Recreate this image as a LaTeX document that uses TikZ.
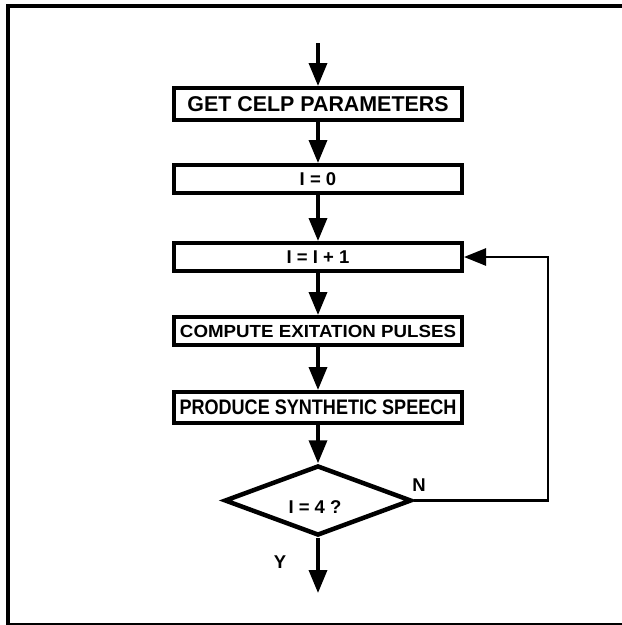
\documentclass[tikz,border=0pt]{standalone}
\usepackage{fontspec}
\setmainfont{Liberation Sans}
\usetikzlibrary{arrows.meta,shapes.geometric}
\begin{document}
\begin{tikzpicture}[x=1pt,y=-1pt,
  box/.style={draw,line width=4pt,minimum width=288pt,minimum height=28pt,inner sep=0pt},
  arr/.style={line width=3.5pt,-{Triangle[width=18pt,length=23pt]}},
  fb/.style={line width=2.6pt,-{Triangle[width=17pt,length=22pt]}},
  lab/.style={font=\fontsize{18.5}{20}\selectfont\bfseries}]
\useasboundingbox (0,0) rectangle (622,625);
% frame
\draw[line width=4pt] (7.5,625) -- (7.5,5.5) -- (622,5.5);
\draw[line width=2pt] (7.5,624) -- (622,624);
% boxes
\node[box,minimum height=32pt,font=\fontsize{21.4}{24}\selectfont\bfseries] (get) at (318,104) {GET CELP PARAMETERS};
\node[box,lab] (i0) at (318,179) {I = 0};
\node[box,lab] (i1) at (318,257) {I = I + 1};
\node[box,font=\fontsize{17.5}{20}\selectfont\bfseries] (comp) at (318,331) {\scalebox{1.07}[1]{COMPUTE EXITATION PULSES}};
\node[box,minimum height=31pt,font=\fontsize{21}{24}\selectfont\bfseries] (prod) at (318,407.5) {\scalebox{0.86}[1]{PRODUCE SYNTHETIC SPEECH}};
\node[draw,diamond,line width=4.5pt,minimum width=187pt,minimum height=70pt,inner sep=0pt,aspect=2.5] (dec) at (318,500.5) {};
\node[lab] (dect) at (315,507) {I = 4 ?};
\node[lab] (nlab) at (419,485) {N};
\node[lab] (ylab) at (280,562) {Y};
% connectors
\coordinate (start) at (318,43);
\coordinate (stop) at (318,593);
\coordinate (fbx) at (548,0);
\draw[arr] (start) -- (get.north);
\draw[arr] (get.south) -- (i0.north);
\draw[arr] (i0.south) -- (i1.north);
\draw[arr] (i1.south) -- (comp.north);
\draw[arr] (comp.south) -- (prod.north);
\draw[arr] (prod.south) -- (dec.north);
\draw[arr] (dec.south) -- (stop);
\draw[fb] (dec.east) -| (fbx |- i1.east) -- (i1.east);
\end{tikzpicture}
\end{document}
